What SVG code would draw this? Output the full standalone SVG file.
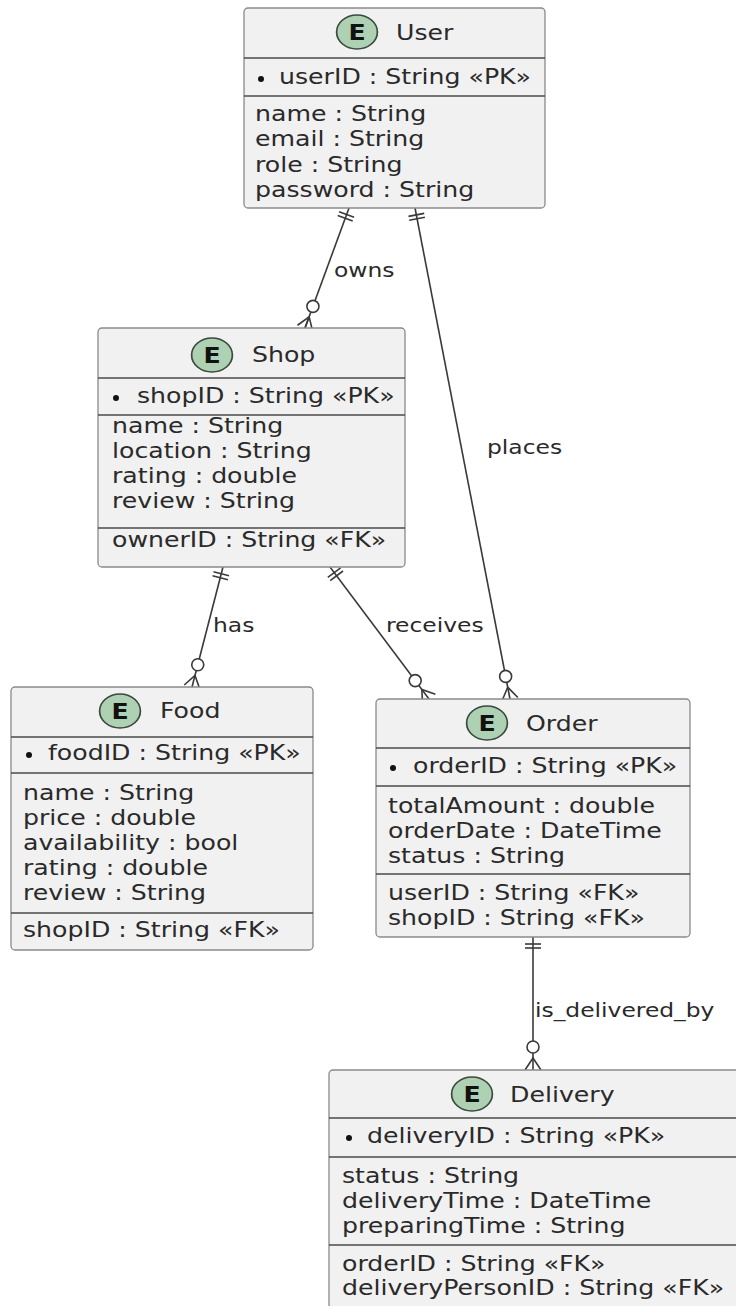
<svg xmlns="http://www.w3.org/2000/svg" width="736" height="1306" viewBox="0 0 736 1306">
<style>
text{font-family:"DejaVu Sans","Liberation Sans",sans-serif;font-size:21px;fill:#2a2a2a}
.l{font-size:19.5px}
.e{font-weight:bold;text-anchor:middle;fill:#111}
.box{fill:#F1F1F1;stroke:#8a8a8a;stroke-width:1.3}
.sep{stroke:#4a4a4a;stroke-width:1.5}
.ec{fill:#ADD1B2;stroke:#3a4a3c;stroke-width:1.4}
.bul{fill:#111}
#connectors line,#connectors polyline{stroke:#3a3a3a;stroke-width:1.6;fill:none}
#connectors circle{fill:#fff;stroke:#3a3a3a;stroke-width:1.6}
</style>
<rect width="736" height="1306" fill="#fff"/>

<g id="connectors">
  <!-- owns -->
  <line x1="349" y1="208" x2="305" y2="328"/>
  <line x1="339.08" y1="211.82" x2="354.10" y2="217.32"/>
  <line x1="337.70" y1="215.58" x2="352.72" y2="221.08"/>
  <circle cx="312.92" cy="306.4" r="6"/>
  <polyline points="297.49,325.25 309.13,316.73 312.51,330.75"/>
  <line x1="309.13" y1="316.73" x2="305" y2="328"/>
  <!-- places -->
  <line x1="415" y1="208" x2="510" y2="699"/>
  <line x1="408.48" y1="216.39" x2="424.18" y2="213.35"/>
  <line x1="409.24" y1="220.32" x2="424.94" y2="217.28"/>
  <circle cx="505.63" cy="676.42" r="6"/>
  <polyline points="502.15,700.52 507.72,687.22 517.85,697.48"/>
  <!-- has -->
  <line x1="223" y1="567" x2="192" y2="687"/>
  <line x1="213.50" y1="571.78" x2="229.00" y2="575.78"/>
  <line x1="212.50" y1="575.65" x2="228.00" y2="579.65"/>
  <circle cx="197.75" cy="664.73" r="6"/>
  <polyline points="184.25,685 195,675.38 199.75,689"/>
  <!-- receives -->
  <line x1="330" y1="567" x2="429" y2="699"/>
  <line x1="327.8" y1="577.4" x2="340.6" y2="567.8"/>
  <line x1="330.2" y1="580.6" x2="343.0" y2="571.0"/>
  <circle cx="415.2" cy="680.6" r="6"/>
  <polyline points="422.6,703.8 421.8,689.4 435.4,694.2"/>
  <!-- is_delivered_by -->
  <line x1="533" y1="937" x2="533" y2="1070"/>
  <line x1="525" y1="944" x2="541" y2="944"/>
  <line x1="525" y1="948" x2="541" y2="948"/>
  <circle cx="533" cy="1047" r="6"/>
  <polyline points="525,1070 533,1058 541,1070"/>
  <!-- labels -->
  <text class="l" transform="translate(334 277) scale(1.2 1)">owns</text>
  <text class="l" transform="translate(487 454) scale(1.2 1)">places</text>
  <text class="l" transform="translate(213 632) scale(1.2 1)">has</text>
  <text class="l" transform="translate(386 632) scale(1.2 1)">receives</text>
  <text class="l" transform="translate(535 1017) scale(1.2 1)">is_delivered_by</text>
</g>

<g id="user">
  <rect class="box" x="244" y="8" width="301" height="200" rx="4"/>
  <line class="sep" x1="244" y1="58" x2="545" y2="58"/>
  <line class="sep" x1="244" y1="96" x2="545" y2="96"/>
  <g transform="translate(357 32) scale(1.2 1)"><circle class="ec" r="17"/><text class="e" y="7.5">E</text></g>
  <text transform="translate(396 40) scale(1.2 1)">User</text>
  <circle class="bul" cx="261" cy="79" r="3"/>
  <text transform="translate(279 84) scale(1.2 1)">userID : String «PK»</text>
  <text transform="translate(255 121) scale(1.2 1)">name : String</text>
  <text transform="translate(255 146.3) scale(1.2 1)">email : String</text>
  <text transform="translate(255 171.6) scale(1.2 1)">role : String</text>
  <text transform="translate(255 197) scale(1.2 1)">password : String</text>
</g>

<g id="shop">
  <rect class="box" x="98" y="328" width="307" height="239" rx="4"/>
  <line class="sep" x1="98" y1="378" x2="405" y2="378"/>
  <line class="sep" x1="98" y1="415" x2="405" y2="415"/>
  <line class="sep" x1="98" y1="528" x2="405" y2="528"/>
  <g transform="translate(212 355) scale(1.2 1)"><circle class="ec" r="17"/><text class="e" y="7.5">E</text></g>
  <text transform="translate(252 362) scale(1.2 1)">Shop</text>
  <circle class="bul" cx="116" cy="398" r="3"/>
  <text transform="translate(137 403) scale(1.2 1)">shopID : String «PK»</text>
  <text transform="translate(112 433) scale(1.2 1)">name : String</text>
  <text transform="translate(112 458) scale(1.2 1)">location : String</text>
  <text transform="translate(112 483) scale(1.2 1)">rating : double</text>
  <text transform="translate(112 508) scale(1.2 1)">review : String</text>
  <text transform="translate(112 547) scale(1.2 1)">ownerID : String «FK»</text>
</g>

<g id="food">
  <rect class="box" x="11" y="687" width="302" height="263" rx="4"/>
  <line class="sep" x1="11" y1="737" x2="313" y2="737"/>
  <line class="sep" x1="11" y1="773" x2="313" y2="773"/>
  <line class="sep" x1="11" y1="913" x2="313" y2="913"/>
  <g transform="translate(120 711) scale(1.2 1)"><circle class="ec" r="17"/><text class="e" y="7.5">E</text></g>
  <text transform="translate(160 718) scale(1.2 1)">Food</text>
  <circle class="bul" cx="29" cy="755" r="3"/>
  <text transform="translate(48 760) scale(1.2 1)">foodID : String «PK»</text>
  <text transform="translate(23 800) scale(1.2 1)">name : String</text>
  <text transform="translate(23 825) scale(1.2 1)">price : double</text>
  <text transform="translate(23 850) scale(1.2 1)">availability : bool</text>
  <text transform="translate(23 875) scale(1.2 1)">rating : double</text>
  <text transform="translate(23 900) scale(1.2 1)">review : String</text>
  <text transform="translate(23 937) scale(1.2 1)">shopID : String «FK»</text>
</g>

<g id="order">
  <rect class="box" x="376" y="699" width="314" height="238" rx="4"/>
  <line class="sep" x1="376" y1="748" x2="690" y2="748"/>
  <line class="sep" x1="376" y1="786" x2="690" y2="786"/>
  <line class="sep" x1="376" y1="874" x2="690" y2="874"/>
  <g transform="translate(487 723) scale(1.2 1)"><circle class="ec" r="17"/><text class="e" y="7.5">E</text></g>
  <text transform="translate(526 731) scale(1.2 1)">Order</text>
  <circle class="bul" cx="393" cy="768" r="3"/>
  <text transform="translate(413 773) scale(1.2 1)">orderID : String «PK»</text>
  <text transform="translate(388 813) scale(1.2 1)">totalAmount : double</text>
  <text transform="translate(388 838) scale(1.2 1)">orderDate : DateTime</text>
  <text transform="translate(388 863) scale(1.2 1)">status : String</text>
  <text transform="translate(388 900) scale(1.2 1)">userID : String «FK»</text>
  <text transform="translate(388 925) scale(1.2 1)">shopID : String «FK»</text>
</g>

<g id="delivery">
  <rect class="box" x="329" y="1070" width="420" height="250" rx="4"/>
  <line class="sep" x1="329" y1="1118" x2="749" y2="1118"/>
  <line class="sep" x1="329" y1="1157" x2="749" y2="1157"/>
  <line class="sep" x1="329" y1="1245" x2="749" y2="1245"/>
  <g transform="translate(472 1094) scale(1.2 1)"><circle class="ec" r="17"/><text class="e" y="7.5">E</text></g>
  <text transform="translate(510 1102) scale(1.2 1)">Delivery</text>
  <circle class="bul" cx="349" cy="1138" r="3"/>
  <text transform="translate(367 1143) scale(1.2 1)">deliveryID : String «PK»</text>
  <text transform="translate(342 1183) scale(1.2 1)">status : String</text>
  <text transform="translate(342 1208) scale(1.2 1)">deliveryTime : DateTime</text>
  <text transform="translate(342 1233) scale(1.2 1)">preparingTime : String</text>
  <text transform="translate(342 1271) scale(1.2 1)">orderID : String «FK»</text>
  <text transform="translate(342 1295) scale(1.2 1)">deliveryPersonID : String «FK»</text>
</g>
</svg>
